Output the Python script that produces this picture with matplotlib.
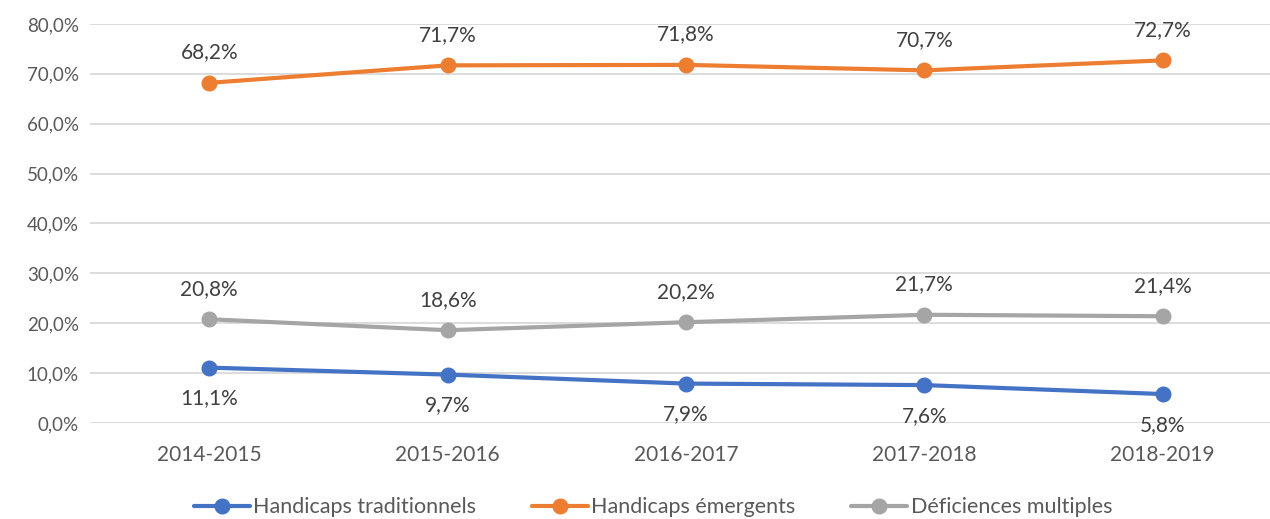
import matplotlib.pyplot as plt
from matplotlib.ticker import FuncFormatter

# Données
annees = ["2014-2015", "2015-2016", "2016-2017", "2017-2018", "2018-2019"]
traditionnels = [11.1, 9.7, 7.9, 7.6, 5.8]
emergents = [68.2, 71.7, 71.8, 70.7, 72.7]
multiples = [20.8, 18.6, 20.2, 21.7, 21.4]

plt.rcParams["font.family"] = ["Lato", "DejaVu Sans"]

fig = plt.figure(figsize=(12.7, 5.19), dpi=100)
ax = fig.add_axes([0.0709, 0.185, 0.9291, 0.7688])

x = list(range(len(annees)))
series = [
    ("Handicaps traditionnels", traditionnels, "#4472C4", -1),
    ("Handicaps émergents", emergents, "#ED7D31", 1),
    ("Déficiences multiples", multiples, "#A5A5A5", 1),
]

for nom, vals, couleur, sens in series:
    ax.plot(x, vals, color=couleur, lw=3, marker="o", ms=10.5, label=nom,
            solid_capstyle="round")
    for xi, v in zip(x, vals):
        ax.annotate(f"{v:.1f}%".replace(".", ","), (xi, v),
                    xytext=(0, 22 * sens), textcoords="offset points",
                    ha="center", va="center", fontsize=15, color="#404040")

ax.set_ylim(0, 80)
ax.set_yticks(range(0, 81, 10))
ax.yaxis.set_major_formatter(FuncFormatter(lambda v, p: f"{v:.1f}%".replace(".", ",")))
ax.set_xlim(-0.5, 4.45)
ax.set_xticks(x)
ax.set_xticklabels(annees)

ax.grid(axis="y", color="#D9D9D9", lw=1.3)
ax.set_axisbelow(True)
for s in ax.spines.values():
    s.set_visible(False)
ax.tick_params(length=0, labelsize=13.5, colors="#595959")
ax.tick_params(axis="x", labelsize=15, pad=16)
ax.tick_params(axis="y", pad=8)

ax.legend(loc="lower center", bbox_to_anchor=(0.477, -0.285), ncol=3, frameon=False,
          fontsize=15.5, handlelength=2.6, handletextpad=0.15, columnspacing=2.6,
          labelcolor="#595959")

plt.savefig("out.png", dpi=100)
